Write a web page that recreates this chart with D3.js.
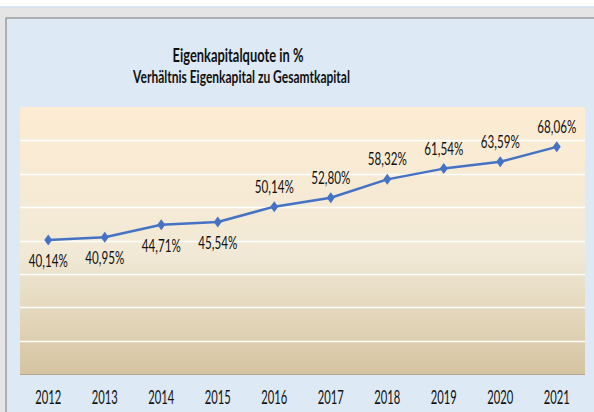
<!DOCTYPE html>
<html>
<head>
<meta charset="utf-8">
<script src="https://cdn.jsdelivr.net/npm/d3@7"></script>
<style>
  html, body { margin: 0; padding: 0; background: #fff; }
  svg { display: block; }
  text { font-family: Lato, "Open Sans", sans-serif; fill: #111; }
</style>
</head>
<body>
<svg id="chart" width="594" height="412"></svg>
<script>
// Eigenkapitalquote 2012-2021
const years = ['2012', '2013', '2014', '2015', '2016', '2017', '2018', '2019', '2020', '2021'];
const quote = [40.14, 40.95, 44.71, 45.54, 50.14, 52.80, 58.32, 61.54, 63.59, 68.06];
const labelBelow = [true, true, true, true, false, false, false, false, false, false];
const yTicks = [0, 10, 20, 30, 40, 50, 60, 70, 80];

const svg = d3.select('#chart');
const W = 594, H = 412;
const plot = { left: 20, right: 585, top: 107, bottom: 374 };
const CAP = 0.72; // Lato cap height

// squeeze text so it looks like the narrow Calibri of the original
function fit(sel, size, targetW, targetCap) {
  const n = sel.node();
  const w = n.getComputedTextLength();
  const sx = targetW / w, sy = targetCap / (size * CAP);
  return [sx, sy];
}

// frame: white strip, blue line, gray margin, chart area
svg.append('rect').attr('x', 0).attr('y', 8).attr('width', W).attr('height', H - 8).attr('fill', '#e5e5e5');
svg.append('rect').attr('x', 0).attr('y', 6).attr('width', W).attr('height', 2).attr('fill', '#d6e3f2');
svg.append('rect').attr('x', 6).attr('y', 18).attr('width', W).attr('height', H).attr('fill', '#dde9f5')
  .attr('stroke', '#8a8a8a').attr('stroke-width', 1.2);

const defs = svg.append('defs');
const grad = defs.append('linearGradient').attr('id', 'bg').attr('x1', 0).attr('y1', 0).attr('x2', 0).attr('y2', 1);
grad.append('stop').attr('offset', '0%').attr('stop-color', '#fdecd3');
grad.append('stop').attr('offset', '55%').attr('stop-color', '#f1e9d6');
grad.append('stop').attr('offset', '100%').attr('stop-color', '#d5c4a1');

const x = d3.scaleBand().domain(years).range([plot.left, plot.right]);
const y = d3.scaleLinear().domain([0, 80]).range([plot.bottom, plot.top]);

svg.append('rect')
  .attr('x', plot.left).attr('y', plot.top)
  .attr('width', plot.right - plot.left).attr('height', plot.bottom - plot.top)
  .attr('fill', 'url(#bg)');

// gridlines
svg.append('g').selectAll('line')
  .data(yTicks.filter(t => t > 0 && t < 80))
  .join('line')
  .attr('x1', plot.left).attr('x2', plot.right)
  .attr('y1', d => Math.round(y(d)) + 0.5).attr('y2', d => Math.round(y(d)) + 0.5)
  .attr('stroke', '#ffffff').attr('stroke-width', 1.3);

// bottom axis line
svg.append('line')
  .attr('x1', plot.left).attr('x2', plot.right)
  .attr('y1', plot.bottom + 0.5).attr('y2', plot.bottom + 0.5)
  .attr('stroke', '#b3a88f').attr('stroke-width', 1);

// x axis labels
const xAxis = d3.axisBottom(x).tickSize(0).tickPadding(0);
const gx = svg.append('g').attr('transform', `translate(0,${plot.bottom})`).call(xAxis);
gx.select('.domain').remove();
const yearText = gx.selectAll('text')
  .attr('y', 0).attr('dy', 0)
  .style('font-size', '14px').style('font-family', 'Lato, sans-serif').attr('fill', '#111');
const [ysx, ysy] = fit(yearText.filter((d, i) => i === 0), 14, 26, 14);
yearText.attr('transform', `translate(0,30) scale(${ysx},${ysy})`);

// line
const cx = (d, i) => x(years[i]) + x.bandwidth() / 2;
const line = d3.line().x((d, i) => cx(d, i)).y(d => y(d));
svg.append('path').datum(quote)
  .attr('d', line).attr('fill', 'none')
  .attr('stroke', '#4472c4').attr('stroke-width', 2.5).attr('stroke-linejoin', 'round');

// diamond markers
svg.append('g').selectAll('path')
  .data(quote)
  .join('path')
  .attr('transform', (d, i) => `translate(${cx(d, i)},${y(d)})`)
  .attr('d', 'M0,-5.5L4,0L0,5.5L-4,0Z')
  .attr('fill', '#4472c4');

// data labels
const fmt = v => v.toFixed(2).replace('.', ',') + '%';
const lab = svg.append('g').selectAll('text')
  .data(quote)
  .join('text')
  .attr('text-anchor', 'middle')
  .style('font-size', '14px')
  .text(fmt);
const [lsx, lsy] = fit(lab.filter((d, i) => i === 0), 14, 39, 12.8);
lab.attr('transform', (d, i) =>
  `translate(${cx(d, i)},${y(d) + (labelBelow[i] ? 27 : -14)}) scale(${lsx},${lsy})`);

// titles
const t1 = svg.append('text')
  .attr('text-anchor', 'middle')
  .style('font-size', '16px').style('font-weight', 'bold')
  .text('Eigenkapitalquote in %');
const [t1x, t1y] = fit(t1, 16, 131, 14);
t1.attr('transform', `translate(238,62) scale(${t1x},${t1y})`);

const t2 = svg.append('text')
  .attr('text-anchor', 'middle')
  .style('font-size', '14px').style('font-weight', 'bold')
  .text('Verhältnis Eigenkapital zu Gesamtkapital');
const [t2x, t2y] = fit(t2, 14, 217, 12);
t2.attr('transform', `translate(241.5,83) scale(${t2x},${t2y})`);
</script>
</body>
</html>
